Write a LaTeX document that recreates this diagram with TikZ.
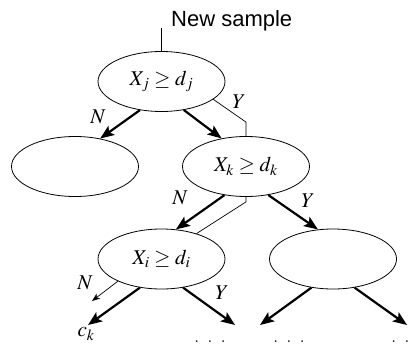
\documentclass[tikz,border=0pt]{standalone}
\usepackage{mathptmx}
\usepackage{fontspec}
\newfontfamily\labelfont{Liberation Sans}
\usetikzlibrary{shapes.geometric,arrows.meta}
\begin{document}
\begin{tikzpicture}[x=1pt,y=-1pt,
  decision/.style={draw,ellipse,line width=0.8pt,minimum width=127pt,minimum height=60pt,inner sep=0pt,font=\fontsize{21}{24}\selectfont},
  thickarrow/.style={line width=2.2pt,-{Stealth[length=14pt,width=11pt,inset=3pt]}},
  thinarrow/.style={line width=0.7pt,-{Stealth[length=8pt,width=6pt,inset=2pt]}},
  thinpath/.style={line width=0.7pt},
  lbl/.style={font=\fontsize{21}{24}\selectfont,inner sep=0pt}]
\useasboundingbox (0,0) rectangle (419,345);
\node[decision] (root) at (161.5,81.5) {$X_j \geq d_j$};
\node[decision] (left) at (75,166.5) {};
\node[decision] (xk) at (246,166.5) {$X_k \geq d_k$};
\node[decision] (xi) at (161.5,259) {$X_i \geq d_i$};
\node[decision] (right) at (333,259) {};
\node[anchor=base west,inner sep=0pt,font=\labelfont\fontsize{22}{24}\selectfont] (ns) at (171,27) {New sample};
\coordinate (nstop) at (161.5,28);
\draw[thinpath] (nstop) -- (root.north);
% root children
\draw[thickarrow] (root.233) -- (left.48);
\draw[thickarrow] (root.308) -- (xk.131);
\draw[thinpath] (root.341) -- ([yshift=14pt]xk.north) -- (xk.north);
\node[lbl] (n1) at (98,117) {$N$};
\node[lbl] (y1) at (239,102) {$Y$};
% xk children
\draw[thickarrow] (xk.233) -- (xi.64);
\draw[thickarrow] (xk.308) -- (right.117);
\draw[thinpath] (xk.south) -- ([yshift=-5pt]xk.south) -- (xi.36);
\node[lbl] (n2) at (180,198) {$N$};
\node[lbl] (y2) at (308,201) {$Y$};
% leaves
\coordinate (l1) at (88,325);
\coordinate (l2) at (235,325);
\coordinate (l3) at (260,325);
\coordinate (l4) at (407,325);
\coordinate (l0) at (92,301);
\draw[thickarrow] (xi.233) -- (l1);
\draw[thickarrow] (xi.307) -- (l2);
\draw[thickarrow] (right.233) -- (l3);
\draw[thickarrow] (right.307) -- (l4);
\draw[thinarrow] (xi.207) -- (l0);
\node[lbl] (n3) at (85,283) {$N$};
\node[lbl] (y3) at (222,293) {$Y$};
\node[lbl] (ck) at (86,334) {$c_k$};
\node[lbl,anchor=base] (d1) at (210,342) {.\hspace{8pt}.\hspace{8pt}.};
\node[lbl,anchor=base] (d2) at (289,342) {.\hspace{8pt}.\hspace{8pt}.};
\node[lbl,anchor=base] (d3) at (407,342) {.\hspace{8pt}.\hspace{8pt}.};
\end{tikzpicture}
\end{document}
